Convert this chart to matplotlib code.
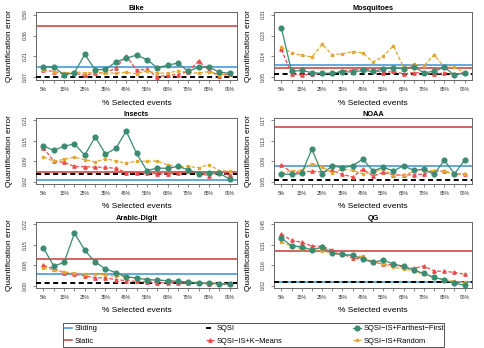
import numpy as np
import matplotlib
matplotlib.use("Agg")
import matplotlib.pyplot as plt
from matplotlib.lines import Line2D
from matplotlib.patches import Rectangle

plt.rcParams['font.family'] = ['Liberation Sans', 'DejaVu Sans']

pct = [5, 10, 15, 20, 25, 30, 35, 40, 45, 50, 55, 60, 65, 70, 75, 80, 85, 90, 95]
titles = ["Bike", "Mosquitoes", "Insects", "NOAA", "Arabic-Digit", "QG"]

# horizontal baselines: sliding, static, sqsi
bike_base = [0.142, 0.42, 0.075]
mosq_base = [0.100, 0.090, 0.066]
insects_base = [0.024, 0.050, 0.042]
noaa_base = [0.081, 0.158, 0.0535]
arabic_base = [0.043, 0.098, 0.009]
qg_base = [0.042, 0.266, 0.042]

bike_ff = [0.144, 0.142, 0.087, 0.103, 0.228, 0.123, 0.125, 0.175, 0.201, 0.223,
           0.192, 0.137, 0.154, 0.168, 0.113, 0.139, 0.142, 0.106, 0.099]
bike_km = [0.123, 0.110, 0.095, 0.100, 0.085, 0.100, 0.105, 0.132, 0.220, 0.120,
           0.125, 0.075, 0.085, 0.090, 0.110, 0.183, 0.120, 0.080, 0.095]
bike_rand = [0.118, 0.110, 0.100, 0.110, 0.100, 0.105, 0.100, 0.100, 0.105, 0.095,
             0.115, 0.100, 0.100, 0.115, 0.105, 0.100, 0.110, 0.090, 0.095]

mosq_ff = [0.256, 0.075, 0.079, 0.070, 0.067, 0.067, 0.073, 0.073, 0.079, 0.075,
           0.086, 0.089, 0.086, 0.095, 0.069, 0.076, 0.092, 0.060, 0.069]
mosq_km = [0.166, 0.065, 0.060, 0.065, 0.067, 0.067, 0.078, 0.080, 0.085, 0.080,
           0.070, 0.075, 0.065, 0.070, 0.068, 0.063, 0.070, 0.063, 0.070]
mosq_rand = [0.176, 0.152, 0.141, 0.135, 0.187, 0.144, 0.148, 0.157, 0.151, 0.114,
             0.137, 0.181, 0.092, 0.105, 0.098, 0.144, 0.092, 0.093, 0.070]

insects_ff = [0.130, 0.117, 0.130, 0.137, 0.102, 0.159, 0.106, 0.123, 0.177, 0.108,
              0.054, 0.062, 0.061, 0.067, 0.057, 0.045, 0.047, 0.046, 0.028]
insects_km = [0.125, 0.083, 0.080, 0.067, 0.066, 0.065, 0.064, 0.061, 0.048, 0.048,
              0.046, 0.045, 0.043, 0.047, 0.054, 0.046, 0.038, 0.048, 0.040]
insects_rand = [0.097, 0.083, 0.089, 0.096, 0.088, 0.081, 0.091, 0.084, 0.077, 0.083,
                0.083, 0.084, 0.072, 0.066, 0.067, 0.063, 0.073, 0.054, 0.052]

noaa_ff = [0.065, 0.064, 0.066, 0.114, 0.065, 0.081, 0.077, 0.081, 0.094, 0.071,
           0.078, 0.071, 0.081, 0.072, 0.074, 0.064, 0.092, 0.065, 0.092]
noaa_km = [0.083, 0.068, 0.069, 0.070, 0.069, 0.072, 0.064, 0.059, 0.074, 0.061,
           0.068, 0.063, 0.063, 0.063, 0.065, 0.071, 0.070, 0.065, 0.065]
noaa_rand = [0.066, 0.071, 0.072, 0.085, 0.079, 0.067, 0.074, 0.072, 0.065, 0.069,
             0.074, 0.062, 0.062, 0.070, 0.075, 0.070, 0.070, 0.065, 0.065]

arabic_ff = [0.138, 0.072, 0.085, 0.193, 0.130, 0.086, 0.062, 0.047, 0.032, 0.028,
             0.022, 0.020, 0.018, 0.015, 0.013, 0.010, 0.009, 0.006, 0.005]
arabic_km = [0.074, 0.062, 0.047, 0.041, 0.036, 0.029, 0.028, 0.022, 0.018, 0.015,
             0.014, 0.011, 0.011, 0.009, 0.009, 0.009, 0.006, 0.006, 0.004]
arabic_rand = [0.065, 0.058, 0.050, 0.046, 0.043, 0.043, 0.039, 0.034, 0.033, 0.027,
               0.022, 0.020, 0.018, 0.015, 0.014, 0.011, 0.010, 0.008, 0.006]

qg_ff = [0.353, 0.300, 0.293, 0.271, 0.290, 0.247, 0.240, 0.233, 0.208, 0.184,
         0.199, 0.172, 0.155, 0.129, 0.105, 0.078, 0.059, 0.037, 0.022]
qg_km = [0.382, 0.339, 0.324, 0.298, 0.295, 0.269, 0.242, 0.213, 0.206, 0.184,
         0.172, 0.165, 0.150, 0.141, 0.158, 0.121, 0.121, 0.112, 0.100]
qg_rand = [0.324, 0.298, 0.279, 0.269, 0.264, 0.247, 0.237, 0.228, 0.225, 0.187,
           0.170, 0.148, 0.138, 0.121, 0.100, 0.076, 0.063, 0.049, 0.042]

# y range (first, last tick) and tick labels
bike_yt = [0.07, 0.50, ["0.07", "0.21", "0.36", "0.50"]]
mosq_yt = [0.05, 0.31, ["0.05", "0.14", "0.23", "0.31"]]
insects_yt = [0.02, 0.21, ["0.02", "0.09", "0.15", "0.21"]]
noaa_yt = [0.05, 0.17, ["0.05", "0.09", "0.13", "0.17"]]
arabic_yt = [0.0, 0.225, ["0.00", "0.08", "0.15", "0.22"]]
qg_yt = [0.02, 0.45, ["0.02", "0.16", "0.31", "0.45"]]

panels = [
    (bike_base, bike_ff, bike_km, bike_rand, bike_yt),
    (mosq_base, mosq_ff, mosq_km, mosq_rand, mosq_yt),
    (insects_base, insects_ff, insects_km, insects_rand, insects_yt),
    (noaa_base, noaa_ff, noaa_km, noaa_rand, noaa_yt),
    (arabic_base, arabic_ff, arabic_km, arabic_rand, arabic_yt),
    (qg_base, qg_ff, qg_km, qg_rand, qg_yt),
]

c_slide = "#3a8fd6"
c_static = "#c83a36"
c_ff = "#3b8b72"
c_km = "#ee4a4a"
c_rand = "#e2a832"
dash = (0, (3, 1.5))
sqsi_dash = (0, (2.6, 1.8))

W, H = 484, 348
fig = plt.figure(figsize=(W / 100, H / 100), dpi=100)

rows = [(12, 80), (118, 184), (222, 288)]
cols = [(36, 237), (274, 472)]

for i, (base, ff, km, rnd, yt) in enumerate(panels):
    top, bot = rows[i // 2]
    left, right = cols[i % 2]
    ax = fig.add_axes([left / W, 1 - bot / H, (right - left) / W, (bot - top) / H])

    ax.axhline(base[0], color=c_slide, lw=1.1, zorder=2)
    ax.axhline(base[1], color=c_static, lw=1.1, zorder=2)
    ax.axhline(base[2], color="black", lw=1.4, ls=sqsi_dash, zorder=3)
    ax.plot(pct, km, color=c_km, lw=0.9, ls=dash, marker="^", ms=2.4, zorder=4)
    ax.plot(pct, rnd, color=c_rand, lw=0.9, ls=dash, marker="s", ms=2.0, zorder=4)
    ax.plot(pct, ff, color=c_ff, lw=0.9, marker="o", ms=3.4, zorder=5)

    lo, hi, labs = yt
    pad = (hi - lo) * 0.04
    ax.set_ylim(lo - pad, hi + pad)
    ax.set_yticks(np.linspace(lo, hi, 4))
    ax.set_yticklabels(labs, rotation=90, va="center")
    ax.set_xlim(1.4, 98.6)
    ax.set_xticks(pct)
    ax.set_xticklabels([f"{p}%" if p % 10 == 5 else "" for p in pct])
    ax.tick_params(labelsize=3.6, length=2.2, width=0.5, color="#555555",
                   labelcolor="#333333", pad=3)
    ax.tick_params(axis="y", pad=3.5)
    for s in ax.spines.values():
        s.set_color("#666666")
        s.set_linewidth(0.7)

    ax.set_title(titles[i], fontsize=5.3, fontweight="bold", pad=1.5)
    ax.set_ylabel("Quantification error", fontsize=6)
    ax.yaxis.set_label_coords(-0.13, 0.5)
    ax.yaxis.label.set_va("center")
    ax.set_xlabel("% Selected events", fontsize=6)
    ax.xaxis.label.set_va("center")
    ax.xaxis.set_label_coords(0.5, -0.34)

# legend: frame plus three equal-width columns
fig.patches.append(Rectangle((63 / W, 1 - 347 / H), 381 / W, 24 / H,
                             transform=fig.transFigure, fill=False,
                             edgecolor="#555555", lw=0.7))
legend_cols = [
    ([Line2D([], [], color=c_slide, lw=1.1),
      Line2D([], [], color=c_static, lw=1.1)],
     ["Sliding", "Static"], 64),
    ([Line2D([], [], color="black", lw=1.4, ls=sqsi_dash),
      Line2D([], [], color=c_km, lw=0.9, ls=dash, marker="^", ms=2.4)],
     ["SQSI", "SQSI\u2212IS+K\u2212Means"], 206),
    ([Line2D([], [], color=c_ff, lw=0.9, marker="o", ms=3.4),
      Line2D([], [], color=c_rand, lw=0.9, ls=dash, marker="s", ms=2.0)],
     ["SQSI\u2212IS+Farthest\u2212First", "SQSI\u2212IS+Random"], 353),
]
for hs, labs, x0 in legend_cols:
    fig.legend(hs, labs, loc="center left", bbox_to_anchor=(x0 / W, 1 - 335 / H),
               frameon=False, fontsize=5.4, handlelength=1.0, handletextpad=0.4,
               borderpad=0, borderaxespad=0, labelspacing=0.75)

fig.savefig("out.png", dpi=100)
